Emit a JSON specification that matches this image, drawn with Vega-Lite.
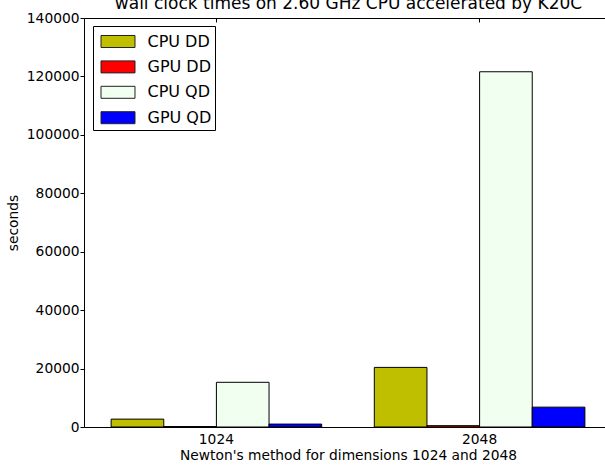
{
  "$schema": "https://vega.github.io/schema/vega-lite/v6.json",
  "autosize": {"type": "none"},
  "padding": {"left": 84, "top": 18, "right": 0, "bottom": 46},
  "width": 521,
  "height": 409,
  "background": "white",
  "title": {
    "text": "wall clock times on 2.60 GHz CPU accelerated by K20C",
    "font": "DejaVu Sans",
    "fontSize": 17,
    "fontWeight": "normal",
    "color": "black",
    "anchor": "middle",
    "frame": "group",
    "baseline": "alphabetic",
    "offset": 5,
    "dx": 4,
    "dy": 20
  },
  "config": {
    "view": {"stroke": null},
    "axis": {
      "labelFont": "DejaVu Sans",
      "titleFont": "DejaVu Sans",
      "labelColor": "black",
      "titleColor": "black",
      "tickColor": "black",
      "domainColor": "black",
      "grid": false,
      "labelFontSize": 13.8,
      "titleFontSize": 13.8,
      "titleFontWeight": "normal"
    },
    "legend": {
      "labelFont": "DejaVu Sans",
      "labelFontSize": 16,
      "labelColor": "black"
    }
  },
  "data": {
    "values": [
      {"dim": "1024", "series": "CPU DD", "seconds": 2700},
      {"dim": "1024", "series": "GPU DD", "seconds": 150},
      {"dim": "1024", "series": "CPU QD", "seconds": 15300},
      {"dim": "1024", "series": "GPU QD", "seconds": 1000},
      {"dim": "2048", "series": "CPU DD", "seconds": 20400},
      {"dim": "2048", "series": "GPU DD", "seconds": 450},
      {"dim": "2048", "series": "CPU QD", "seconds": 121600},
      {"dim": "2048", "series": "GPU QD", "seconds": 6800}
    ]
  },
  "layer": [
    {
      "mark": {"type": "bar", "stroke": "black", "strokeWidth": 1},
      "encoding": {
        "x": {
          "field": "dim",
          "type": "nominal",
          "scale": {"range": [0, 528], "paddingInner": 0.2, "paddingOuter": 0.103},
          "axis": {
            "orient": "bottom",
            "labelAngle": 0,
            "tickSize": 0,
            "labelPadding": 5,
            "titlePadding": 3,
            "title": "Newton's method for dimensions 1024 and 2048"
          }
        },
        "xOffset": {
          "field": "series",
          "type": "nominal",
          "sort": ["CPU DD", "GPU DD", "CPU QD", "GPU QD"],
          "scale": {"paddingInner": 0, "paddingOuter": 0}
        },
        "y": {
          "field": "seconds",
          "type": "quantitative",
          "scale": {"domain": [0, 140000], "nice": false},
          "axis": {
            "values": [0, 20000, 40000, 60000, 80000, 100000, 120000, 140000],
            "format": "d",
            "tickSize": 4,
            "labelPadding": 1,
            "titlePadding": 6,
            "title": "seconds"
          }
        },
        "color": {
          "field": "series",
          "type": "nominal",
          "sort": ["CPU DD", "GPU DD", "CPU QD", "GPU QD"],
          "scale": {
            "domain": ["CPU DD", "GPU DD", "CPU QD", "GPU QD"],
            "range": ["#bfbf00", "#ff0000", "#f0fff0", "#0000ff"]
          },
          "legend": {
            "title": null,
            "orient": "none",
            "legendX": 9,
            "legendY": 8,
            "padding": 3.5,
            "strokeColor": "black",
            "fillColor": "white",
            "symbolType": "M-1.478,-0.522L1.478,-0.522L1.478,0.522L-1.478,0.522Z",
            "symbolSize": 529,
            "symbolStrokeColor": "#222222",
            "symbolStrokeWidth": 1,
            "symbolOpacity": 1,
            "symbolOffset": 9.5,
            "labelOffset": 17.5,
            "rowPadding": 4.4
          }
        }
      }
    },
    {
      "mark": {"type": "bar", "opacity": 0},
      "encoding": {
        "x": {
          "field": "dim",
          "type": "nominal",
          "axis": {
            "orient": "top",
            "labels": false,
            "title": null,
            "tickSize": -4,
            "domain": true
          }
        },
        "xOffset": {
          "field": "series",
          "type": "nominal",
          "sort": ["CPU DD", "GPU DD", "CPU QD", "GPU QD"]
        },
        "y": {"field": "seconds", "type": "quantitative"}
      }
    }
  ],
  "resolve": {"axis": {"x": "independent"}}
}
